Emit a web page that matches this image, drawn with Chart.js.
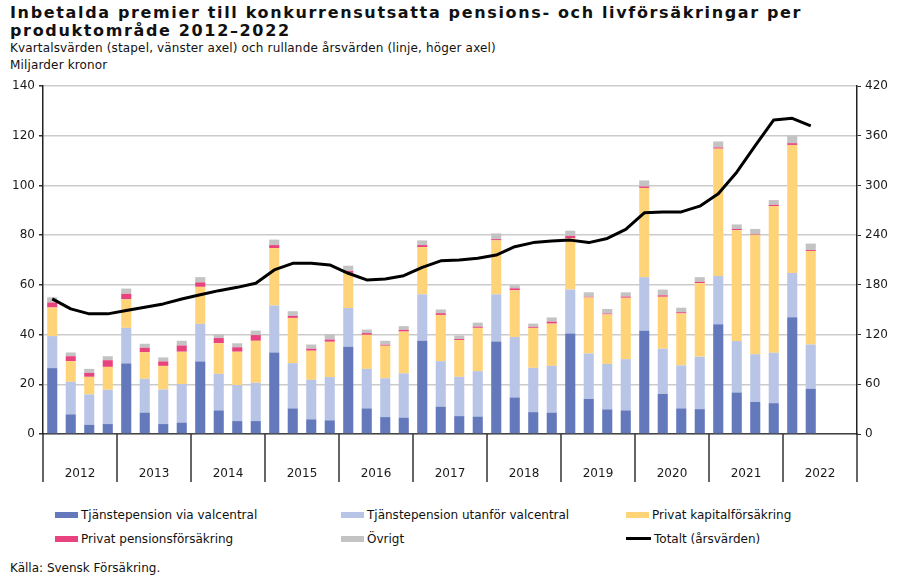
<!DOCTYPE html>
<html lang="sv">
<head>
<meta charset="UTF-8">
<title>Inbetalda premier</title>
<script src="https://cdn.jsdelivr.net/npm/chart.js"></script>
<style>
  body { margin: 0; background: #fff; font-family: "DejaVu Sans", Verdana, sans-serif; color: #111; }
  #page { position: relative; width: 898px; height: 585px; overflow: hidden; }
  .title { position: absolute; left: 10px; top: 4px; font-weight: bold; font-size: 16px; line-height: 18px; letter-spacing: 1.65px; }
  .sub { position: absolute; left: 10px; top: 40px; font-size: 12px; line-height: 17px; letter-spacing: 0.15px; }
  canvas { position: absolute; left: 0; top: 0; }
  .legend-item { position: absolute; font-size: 12px; line-height: 14px; white-space: nowrap; }
  .legend-item span.sw { display: inline-block; width: 23px; height: 6px; margin-right: 3px; vertical-align: middle; position: relative; top: -1px; }
  .source { position: absolute; left: 10px; top: 561px; font-size: 12px; }
</style>
</head>
<body>
<div id="page">
  <div class="title">Inbetalda premier till konkurrensutsatta pensions- och livförsäkringar per<br>produktområde 2012–2022</div>
  <div class="sub">Kvartalsvärden (stapel, vänster axel) och rullande årsvärden (linje, höger axel)<br>Miljarder kronor</div>
  <canvas id="chart" width="898" height="500"></canvas>
  <div id="legend"></div>
  <div class="source">Källa: Svensk Försäkring.</div>
</div>
<script>
// kvartal 2012 K1 - 2022 K2, två tomma platser för resten av 2022
const years = ['2012', '2013', '2014', '2015', '2016', '2017', '2018', '2019', '2020', '2021', '2022'];
const quarters = [];
years.forEach(y => { for (let q = 1; q <= 4; q++) quarters.push(y + ' K' + q); });

const viaValcentral = [26.5, 7.9, 3.7, 4.0, 28.4, 8.6, 4.0, 4.6, 29.2, 9.5, 5.2, 5.2,
  32.8, 10.3, 5.9, 5.5, 35.1, 10.3, 6.8, 6.6, 37.5, 11.0, 7.2, 7.0, 37.2, 14.7, 8.8, 8.6,
  40.4, 14.1, 9.9, 9.5, 41.5, 16.1, 10.3, 10.0, 44.2, 16.7, 12.9, 12.4, 47.0, 18.2, null, null];
const utanforValcentral = [12.9, 13.1, 12.2, 13.8, 14.3, 13.6, 13.9, 15.5, 15.1, 14.7, 14.5, 15.4,
  18.9, 18.2, 15.9, 17.4, 15.6, 15.9, 15.6, 17.8, 18.7, 18.3, 15.8, 18.3, 19.0, 24.3, 17.8, 18.8,
  17.7, 18.3, 18.3, 20.6, 21.6, 18.2, 17.3, 21.1, 19.4, 20.7, 19.2, 20.3, 17.8, 17.8, null, null];
const kapitalforsakring = [11.5, 8.3, 7.1, 9.2, 11.5, 10.7, 9.5, 13.0, 14.9, 12.3, 13.4, 16.9,
  23.1, 18.2, 11.7, 14.2, 14.1, 13.7, 13.1, 16.8, 19.0, 18.6, 14.8, 17.4, 21.7, 18.8, 16.1, 17.0,
  20.6, 22.5, 19.9, 24.7, 35.9, 20.9, 20.9, 29.6, 51.2, 44.6, 48.1, 59.0, 51.5, 37.6, null, null];
const pensionsforsakring = [2.0, 2.0, 1.6, 2.7, 2.2, 1.8, 1.8, 2.5, 1.8, 2.1, 1.8, 2.3,
  1.2, 0.8, 0.8, 0.9, 0.8, 0.7, 0.4, 0.7, 0.8, 0.7, 0.4, 0.5, 0.5, 0.8, 0.4, 0.8,
  1.0, 0.3, 0.4, 0.5, 0.6, 0.6, 0.5, 0.5, 0.5, 0.5, 0.3, 0.5, 0.7, 0.4, null, null];
const ovrigt = [2.1, 1.5, 1.6, 1.6, 2.1, 1.6, 1.6, 1.9, 2.1, 1.6, 1.6, 1.8,
  2.2, 1.9, 1.7, 2.2, 2.1, 1.4, 1.6, 1.5, 1.9, 1.5, 1.4, 1.6, 2.3, 1.2, 1.3, 1.7,
  2.1, 1.8, 1.8, 1.7, 2.4, 2.3, 1.8, 1.9, 2.4, 1.8, 2.0, 1.9, 3.1, 2.6, null, null];
const totaltArsvarden = [163, 151, 145, 145, 149, 153, 157, 163, 168, 173, 177, 182,
  198, 206, 206, 204, 194, 186, 187, 191, 201, 209, 210, 212, 216, 226, 231, 233,
  234, 231, 236, 247, 267, 268, 268, 275, 290, 316, 348, 379, 381, 372, null, null];

const leftTicks = [0, 20, 40, 60, 80, 100, 120, 140];
const rightTicks = [0, 60, 120, 180, 240, 300, 360, 420];

const font = '"DejaVu Sans", Verdana, sans-serif';
const textColor = '#1a1a1a';

function bar(label, data, color) {
  return { type: 'bar', label: label, data: data, backgroundColor: color, yAxisID: 'y',
    stack: 's', order: 1, barPercentage: 0.58, categoryPercentage: 0.94 };
}

const datasets = [
  bar('Tjänstepension via valcentral', viaValcentral, '#6479bc'),
  bar('Tjänstepension utanför valcentral', utanforValcentral, '#b9c5e6'),
  bar('Privat kapitalförsäkring', kapitalforsakring, '#ffd479'),
  bar('Privat pensionsförsäkring', pensionsforsakring, '#e8437f'),
  bar('Övrigt', ovrigt, '#c3c3c3'),
  { type: 'line', label: 'Totalt (årsvärden)', data: totaltArsvarden, yAxisID: 'y1', order: 0,
    borderColor: '#000', borderWidth: 3, pointRadius: 0, tension: 0, borderJoinStyle: 'round', fill: false }
];

// årtal under x-axeln och avdelare mellan åren
const yearAxis = {
  id: 'yearAxis',
  afterDraw(chart) {
    const ctx = chart.ctx;
    const x = chart.scales.x;
    const bottom = chart.chartArea.bottom;
    const half = (x.getPixelForValue(1) - x.getPixelForValue(0)) / 2;
    ctx.save();
    ctx.strokeStyle = '#333';
    ctx.lineWidth = 1.5;
    for (let i = 0; i <= years.length; i++) {
      const px = i < years.length ? x.getPixelForValue(i * 4) - half : x.getPixelForValue(years.length * 4 - 1) + half;
      ctx.beginPath();
      ctx.moveTo(px, bottom);
      ctx.lineTo(px, bottom + 48);
      ctx.stroke();
    }
    ctx.fillStyle = textColor;
    ctx.font = '12px ' + font;
    ctx.textAlign = 'center';
    ctx.textBaseline = 'middle';
    years.forEach((y, i) => {
      const mid = (x.getPixelForValue(i * 4 + 1) + x.getPixelForValue(i * 4 + 2)) / 2;
      ctx.fillText(y, mid, bottom + 40);
    });
    ctx.restore();
  }
};

new Chart(document.getElementById('chart'), {
  data: { labels: quarters, datasets: datasets },
  options: {
    responsive: false,
    animation: false,
    layout: { padding: { top: 86, left: 0, right: 0, bottom: 0 } },
    plugins: { legend: { display: false }, tooltip: { enabled: false }, title: { display: false } },
    scales: {
      x: {
        stacked: true,
        ticks: { display: false },
        grid: { display: false },
        border: { color: '#444', width: 1.5 },
        afterFit(scale) { scale.height = 66; }
      },
      y: {
        position: 'left', stacked: true, min: 0, max: 140,
        afterBuildTicks(scale) { scale.ticks = leftTicks.map(v => ({ value: v })); },
        ticks: { color: textColor, font: { family: font, size: 12 }, padding: 4 },
        grid: { color: '#cbcbcb', lineWidth: 1.5, tickColor: '#333', tickLength: 4 },
        border: { color: '#222', width: 1.5 },
        afterFit(scale) { scale.width = 43; }
      },
      y1: {
        position: 'right', min: 0, max: 420,
        afterBuildTicks(scale) { scale.ticks = rightTicks.map(v => ({ value: v })); },
        ticks: { color: textColor, font: { family: font, size: 12 }, padding: 4 },
        grid: { drawOnChartArea: false, tickColor: '#333', tickLength: 4 },
        border: { color: '#222', width: 1.5 },
        afterFit(scale) { scale.width = 41; }
      }
    }
  },
  plugins: [yearAxis]
});

// förklaring, tre kolumner
const legendCols = [55, 341, 626];
const legendRows = [508, 532];
const legendEl = document.getElementById('legend');
datasets.forEach((ds, i) => {
  const item = document.createElement('div');
  item.className = 'legend-item';
  item.style.left = legendCols[i % 3] + 'px';
  item.style.top = legendRows[Math.floor(i / 3)] + 'px';
  const sw = document.createElement('span');
  sw.className = 'sw';
  if (ds.type === 'line') {
    sw.style.height = '3px';
    sw.style.width = '25px';
    sw.style.background = ds.borderColor;
  } else {
    sw.style.background = ds.backgroundColor;
  }
  item.appendChild(sw);
  item.appendChild(document.createTextNode(ds.label));
  legendEl.appendChild(item);
});
</script>
</body>
</html>
